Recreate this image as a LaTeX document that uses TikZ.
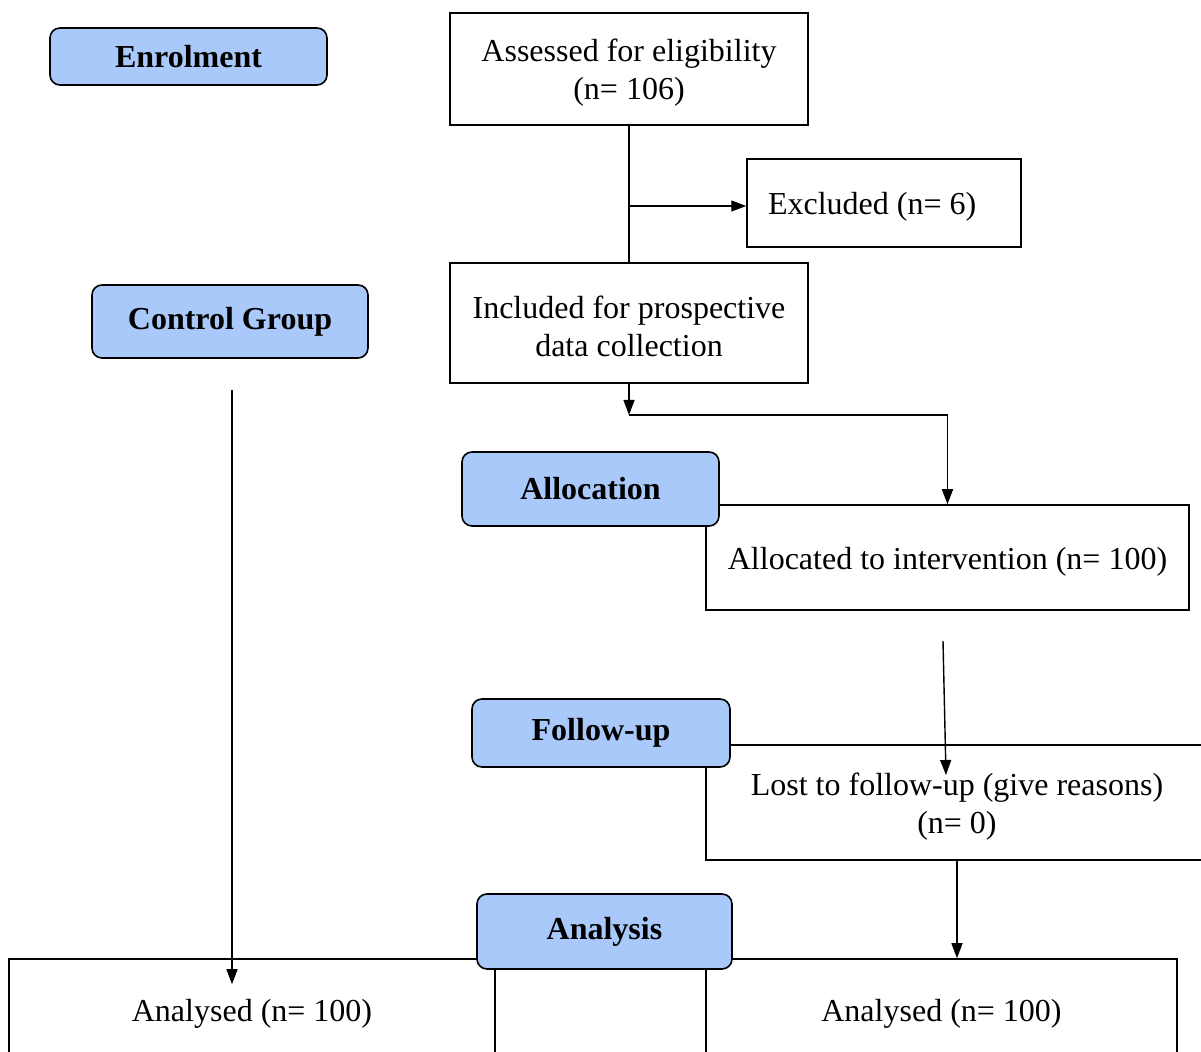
\documentclass[tikz,border=0pt]{standalone}
\usepackage{fontspec}
\setmainfont{Liberation Serif}
\usepackage{tikz}
\usetikzlibrary{arrows.meta,calc,positioning}
\definecolor{stageblue}{rgb}{0.66, 0.79, 0.98}
\newcommand{\strutup}{\rule{0pt}{15pt}}
\tikzset{
  stage/.style={
    rounded corners=5pt,
    draw=black,
    line width=.8pt,
    fill=stageblue,
    align=center,
    inner sep=0pt,
    font=\bfseries\fontsize{16}{19}\selectfont
  },
  caja/.style={
    draw=black,
    line width=.75pt,
    fill=white,
    align=center,
    inner sep=0pt,
    font=\fontsize{16}{19}\selectfont
  },
  arrow/.style={
    -{Triangle[length=7.5pt,width=5.5pt]},
    line width=.7pt,
    black
  }
}

\begin{document}
\begin{tikzpicture}[x=.5pt,y=-.5pt]
\clip (0,0) rectangle (1201,1052);
\fill[white] (0,0) rectangle (1201,1052);
% plain boxes
\node[caja, minimum width=179pt, minimum height=56pt] (assessed) at (629,69) {\strutup Assessed for eligibility\\(n= 106)};
\node[caja, minimum width=137pt, minimum height=44pt, text width=116pt, align=flush left] (excluded) at (884,203) {\strutup Excluded (n= 6)};
\node[caja, minimum width=179pt, minimum height=60pt] (included) at (629,323) {\strutup Included for prospective\\data collection};
\node[caja, minimum width=241.5pt, minimum height=52.5pt] (allocated) at (947.5,557.5) {\strutup Allocated to intervention (n= 100)};
\node[caja, minimum width=251pt, minimum height=57.5pt] (lost) at (957,802.5) {\strutup Lost to follow-up (give reasons)\\(n= 0)};
\node[caja, minimum width=243pt, minimum height=51pt] (analysedL) at (252,1010) {\strutup Analysed (n= 100)};
\node[caja, minimum width=235.5pt, minimum height=51pt] (analysedR) at (941.5,1010) {\strutup Analysed (n= 100)};
% stage labels
\node[stage, minimum width=138.5pt, minimum height=28.5pt] (enrol) at (188.5,56.5) {Enrolment};
\node[stage, minimum width=138pt, minimum height=36.5pt] (control) at (230,321.5) {Control Group};
\node[stage, minimum width=128.5pt, minimum height=37pt] (alloc) at (590.5,489) {Allocation};
\node[stage, minimum width=129pt, minimum height=34pt] (follow) at (601,733) {Follow-up};
\node[stage, minimum width=127.5pt, minimum height=37.5pt] (analysis) at (604.5,931.5) {Analysis};
% connectors
\coordinate (split) at (629,415);
\coordinate (ctop) at (232,390);
\coordinate (atop) at (943,641);
\coordinate (aend) at (946,775);
\draw[line width=.7pt] (assessed.south) -- (included.north);
\draw[arrow] (assessed.south |- 0,206) -- (excluded.west |- 0,206);
\draw[arrow] (included.south) -- (split);
\draw[arrow] (split) -| (allocated.north);
\draw[arrow] (ctop) -- ([yshift=-13pt]ctop |- analysedL.north);
\draw[arrow] (atop) -- (aend);
\draw[arrow] (lost.south) -- (lost.south |- analysedR.north);
\end{tikzpicture}
\end{document}
